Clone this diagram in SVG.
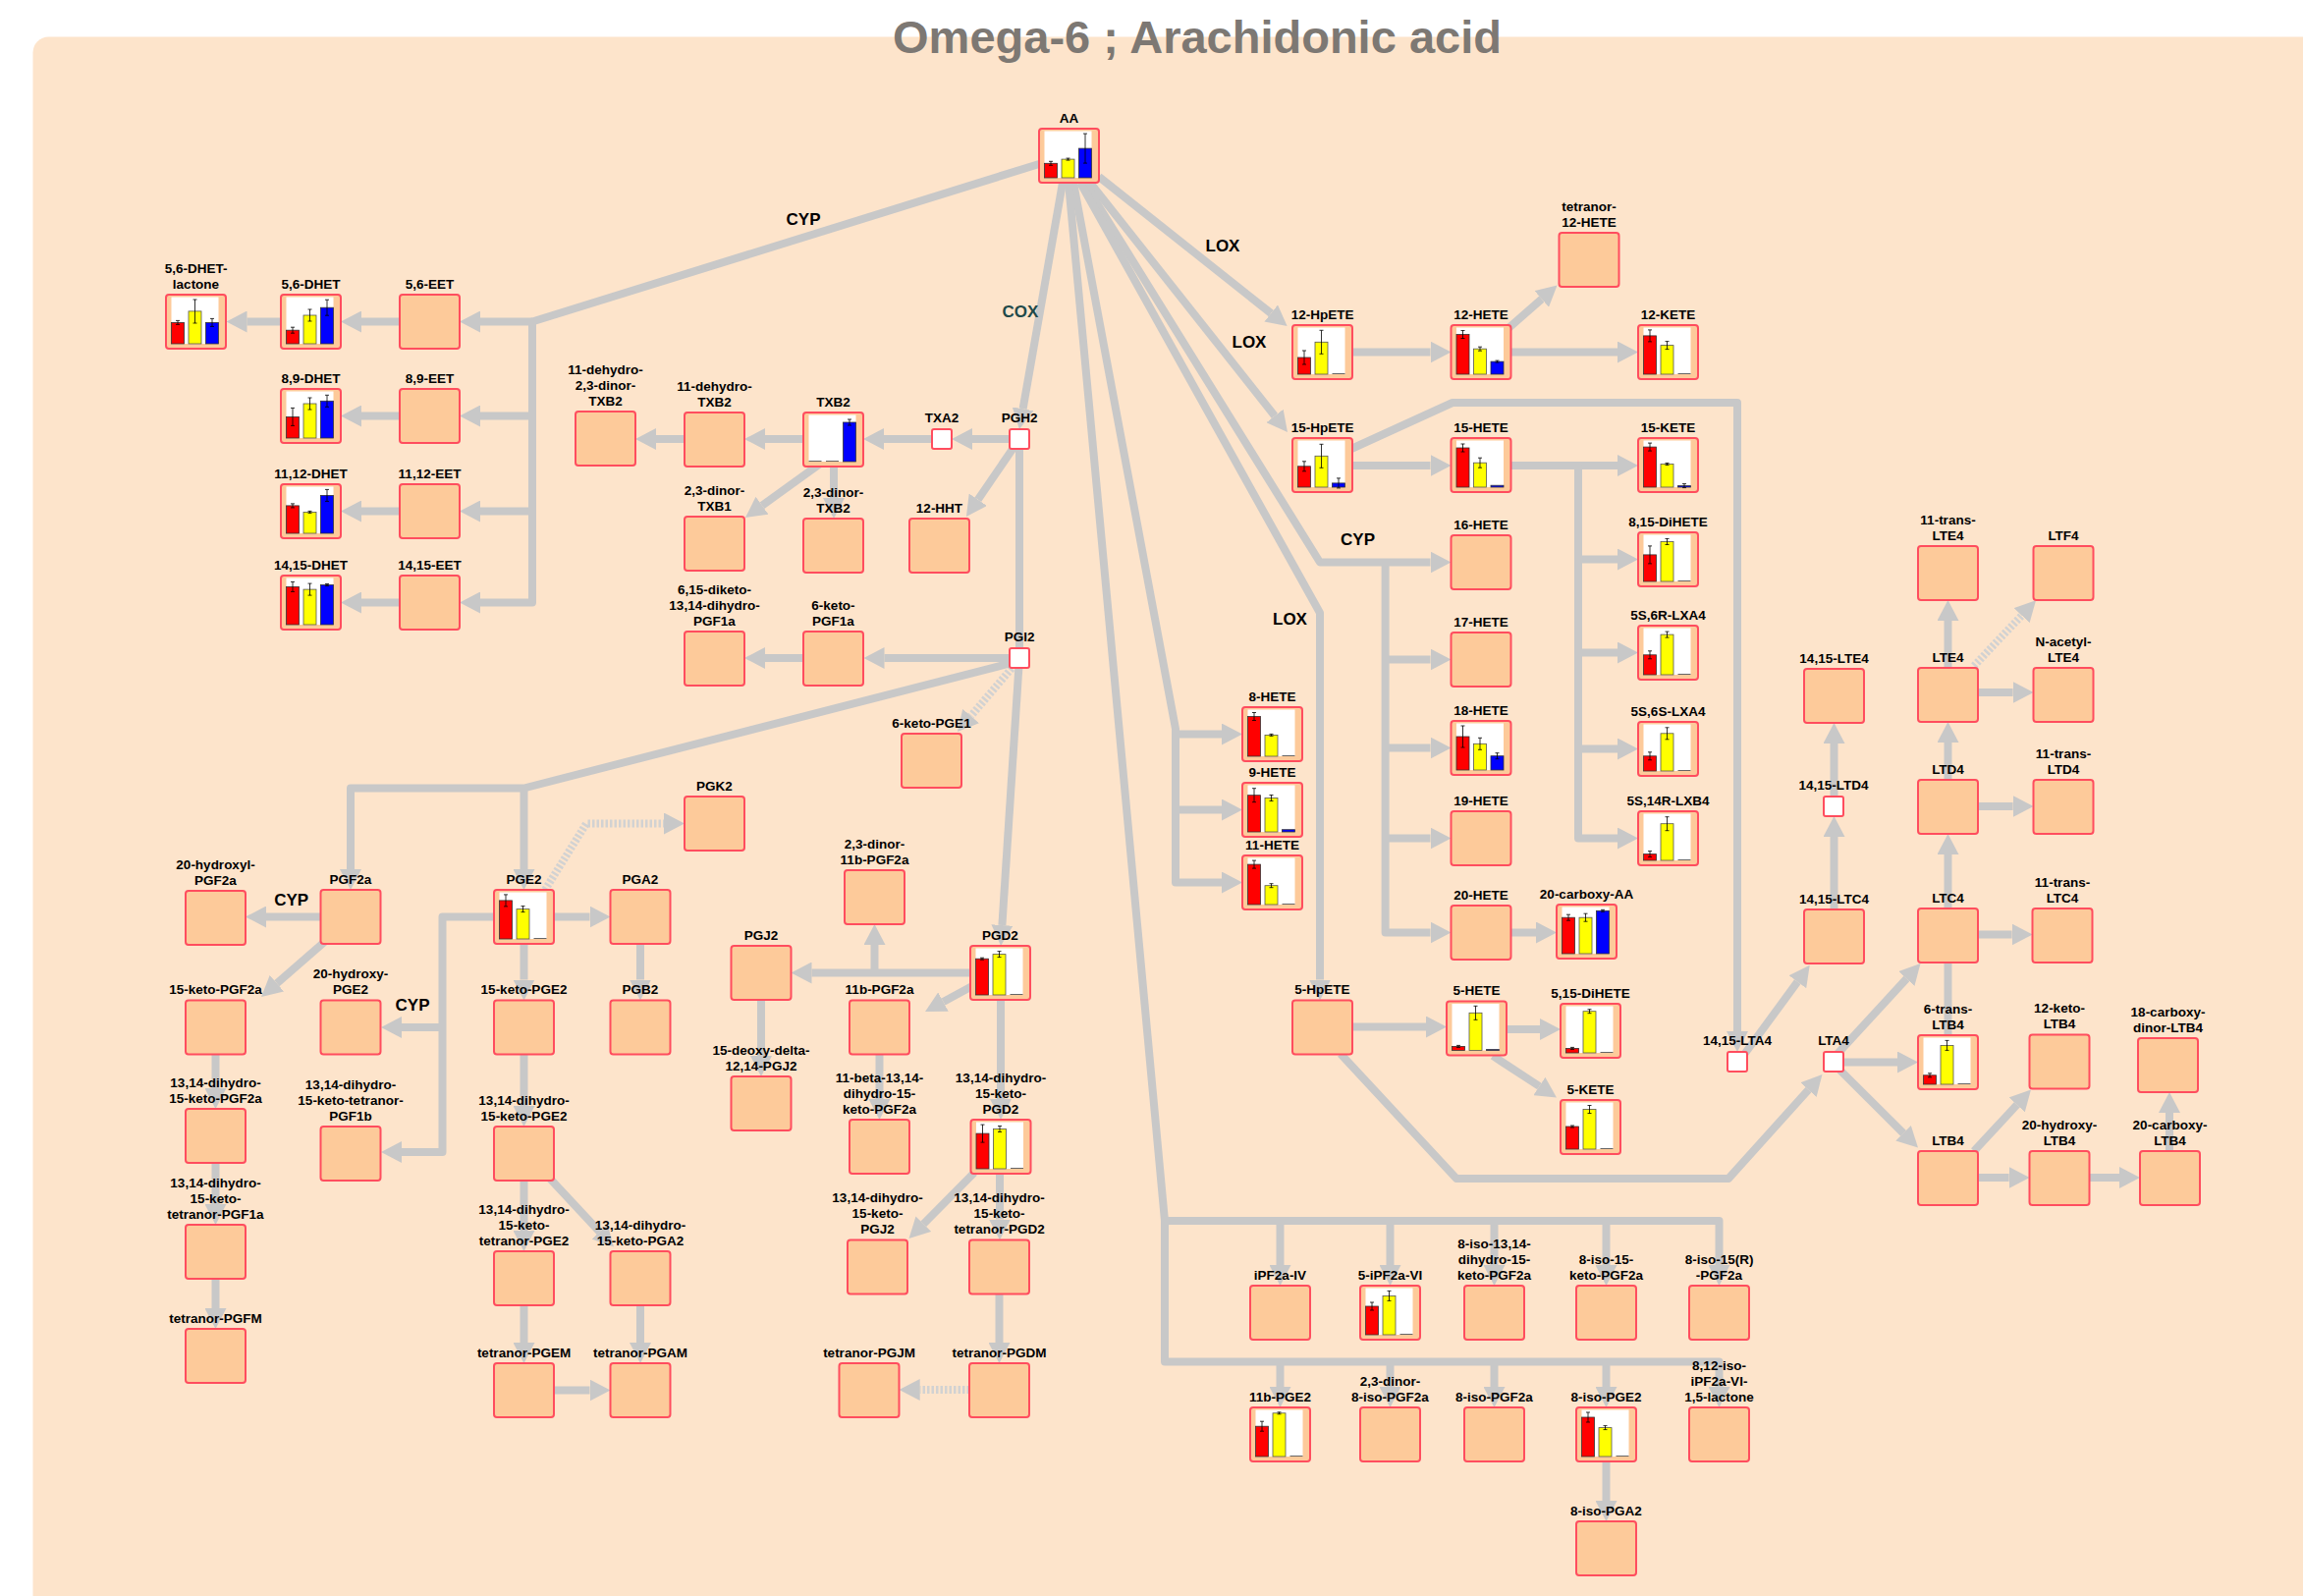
<svg xmlns="http://www.w3.org/2000/svg" width="2345" height="1625" viewBox="0 0 2345 1625">
<style>
.bx{fill:#fdca9a;stroke:#ff4d5e;stroke-width:2;rx:3px}
.sb{fill:#fff;stroke:#ff4d5e;stroke-width:2;rx:2px}
.pl{fill:#fff}
.r{fill:#f00;stroke:#333;stroke-width:.8}
.y{fill:#ff0;stroke:#555;stroke-width:.8}
.b{fill:#00f;stroke:#333;stroke-width:.8}
.z{fill:#666}
.er{fill:none;stroke:#000;stroke-width:.8}
.l{font-family:"Liberation Sans",Arial,sans-serif;font-weight:bold;font-size:13.5px;fill:#000;text-anchor:middle}
.en{font-family:"Liberation Sans",Arial,sans-serif;font-weight:bold;font-size:17px;fill:#000;text-anchor:middle}
.c{fill:none;stroke:#c8c8c8;stroke-width:8;stroke-linejoin:round}
.a{marker-end:url(#ah)}
.d{stroke:#d2d2d2;stroke-dasharray:2.5 2}
</style>
<defs>
<marker id="ah" markerUnits="userSpaceOnUse" markerWidth="21" markerHeight="22" viewBox="0 0 21 22" refX="0" refY="11" orient="auto"><path d="M0,0 L21,11 L0,22 z" fill="#c8c8c8"/></marker>
</defs>
<rect x="0" y="0" width="2345" height="1625" fill="#fff"/>
<rect x="33.5" y="37.5" width="2340" height="1620" rx="16" fill="#fde4cb"/>
<text x="1219" y="54" font-family="Liberation Sans,Arial,sans-serif" font-weight="bold" font-size="47" fill="#7d7873" text-anchor="middle">Omega-6 ; Arachidonic acid</text>

<g id="connectors">
<path class="c a" d="M1058,167 L542,327.5 L542,613.5 L489,613.5"/>
<path class="c a" d="M542,327.5 H489"/>
<path class="c a" d="M542,423.5 H489"/>
<path class="c a" d="M542,520.5 H489"/>
<path class="c a" d="M407,327.5 H368"/>
<path class="c a" d="M407,423.5 H368"/>
<path class="c a" d="M407,520.5 H368"/>
<path class="c a" d="M407,613.5 H368"/>
<path class="c a" d="M286,327.5 H251.5"/>
<path class="c a" d="M1082,186 L1041.6,416.3"/>
<path class="c a" d="M1028,447 H990"/>
<path class="c a" d="M949,447 H900"/>
<path class="c a" d="M818,447 H779"/>
<path class="c a" d="M697,447 H668"/>
<path class="c a" d="M849,475 V507"/>
<path class="c a" d="M838,470 L776,514.7"/>
<path class="c a" d="M1038,447 L995.8,508.7"/>
<path class="c" d="M1038,447 V670"/>
<path class="c a" d="M1038,670 H900.5"/>
<path class="c a" d="M818,670 H779"/>
<path class="c d a" d="M1033,677 L988.6,729"/>
<path class="c a" d="M1038,670 L1020.4,942"/>
<path class="c a" d="M1030,675 L533.5,802.5 L357,802.5 L357,885"/>
<path class="c a" d="M533.5,802.5 V885"/>
<path class="c a" d="M326.5,933.5 H271"/>
<path class="c a" d="M335,955 L281.9,1001.2"/>
<path class="c a" d="M219.5,1073.5 V1108"/>
<path class="c a" d="M219.5,1184 V1226"/>
<path class="c a" d="M219.5,1302 V1332"/>
<path class="c a" d="M564,933.5 H600.5"/>
<path class="c a" d="M503,933.5 H450.5 V1173 H409"/>
<path class="c a" d="M450.5,1046 H409"/>
<path class="c a" d="M533.5,961 V997.5"/>
<path class="c a" d="M533.5,1073.5 V1126"/>
<path class="c a" d="M533.5,1202 V1253"/>
<path class="c a" d="M560,1200 L610.6,1254.2"/>
<path class="c a" d="M533.5,1329 V1367"/>
<path class="c a" d="M652,1329 V1367"/>
<path class="c a" d="M564,1415.5 H600.5"/>
<path class="c a" d="M652,961 V997.5"/>
<path class="c d a" d="M555,906 L597,838.5 H676"/>
<path class="c a" d="M988,990.5 H826.5"/>
<path class="c a" d="M890.5,990.5 V962"/>
<path class="c a" d="M990,1004 L960.5,1020"/>
<path class="c a" d="M895.5,1073.5 V1119"/>
<path class="c a" d="M775,1018 V1075"/>
<path class="c a" d="M1019,1018 V1119"/>
<path class="c a" d="M992,1194 L940.3,1246.2"/>
<path class="c a" d="M1018,1195 V1241.5"/>
<path class="c a" d="M1017.5,1317 V1367"/>
<path class="c d a" d="M987,1415 H936.7"/>
<path class="c a" d="M1119,180 L1294.2,319"/>
<path class="c a" d="M1110,186 L1298,423.5"/>
<path class="c a" d="M1377,358.5 H1456.5"/>
<path class="c a" d="M1535,335 L1569.8,304.4"/>
<path class="c a" d="M1538.7,358.5 H1647"/>
<path class="c a" d="M1377,474 H1456.5"/>
<path class="c a" d="M1538.7,474 H1647"/>
<path class="c a" d="M1538.7,474 H1607 V853.5 H1647"/>
<path class="c a" d="M1607,569.5 H1647"/>
<path class="c a" d="M1607,664.5 H1647"/>
<path class="c a" d="M1607,762.5 H1647"/>
<path class="c a" d="M1365,462 L1479,410 H1769 V1050"/>
<path class="c a" d="M1104,186 L1344,572.5 H1456.5"/>
<path class="c a" d="M1410.6,572.5 V949.5 H1456.5"/>
<path class="c a" d="M1410.6,671.5 H1456.5"/>
<path class="c a" d="M1410.6,761.5 H1456.5"/>
<path class="c a" d="M1410.6,853.5 H1456.5"/>
<path class="c a" d="M1538.7,949.5 H1564"/>
<path class="c a" d="M1100,186 L1344,624 V997.5"/>
<path class="c a" d="M1093,186 L1197,742 V898.5 H1244"/>
<path class="c a" d="M1197,747.5 H1244"/>
<path class="c a" d="M1197,824.5 H1244"/>
<path class="c a" d="M1088,186 L1186,1243 V1386.5 H1750.5 V1412"/>
<path class="c a" d="M1186,1243 H1750.5 V1288"/>
<path class="c a" d="M1303.5,1243 V1288"/>
<path class="c a" d="M1415.5,1243 V1288"/>
<path class="c a" d="M1521.5,1243 V1288"/>
<path class="c a" d="M1635.5,1243 V1288"/>
<path class="c a" d="M1303.5,1386.5 V1412"/>
<path class="c a" d="M1415.5,1386.5 V1412"/>
<path class="c a" d="M1521.5,1386.5 V1412"/>
<path class="c a" d="M1635.5,1386.5 V1412"/>
<path class="c a" d="M1635.5,1488 V1528"/>
<path class="c a" d="M1377,1045.5 H1452"/>
<path class="c a" d="M1534,1048 H1568"/>
<path class="c a" d="M1520,1075 L1567.4,1106"/>
<path class="c a" d="M1365,1073 L1483,1200 H1760 L1841.4,1109.6"/>
<path class="c a" d="M1775,1075 L1830.3,999.7"/>
<path class="c a" d="M1867.5,926 V852"/>
<path class="c a" d="M1867.5,811 V757"/>
<path class="c a" d="M1870,1074 L1941.3,996.5"/>
<path class="c a" d="M1877,1081.5 H1932"/>
<path class="c a" d="M1872,1088 L1938.1,1153.8"/>
<path class="c" d="M1983.5,980 V1054"/>
<path class="c a" d="M1983.5,925 V870"/>
<path class="c a" d="M1983.5,794 V756"/>
<path class="c a" d="M1983.5,680 V632"/>
<path class="c d a" d="M2010,678 L2058.6,626.6"/>
<path class="c a" d="M2014,705 H2049.6"/>
<path class="c a" d="M2014,821 H2049.6"/>
<path class="c a" d="M2014,951.5 H2048.6"/>
<path class="c a" d="M2010,1172 L2053.7,1124.9"/>
<path class="c a" d="M2014,1199 H2045.6"/>
<path class="c a" d="M2127.7,1199 H2158"/>
<path class="c a" d="M2209,1172 V1133"/>
</g>

<g id="enzymes">
<text class="en" x="818" y="229">CYP</text>
<text class="en" x="1039" y="323" fill="#1f4a4a" style="fill:#1f4a4a">COX</text>
<text class="en" x="1245" y="256">LOX</text>
<text class="en" x="1272" y="353.5">LOX</text>
<text class="en" x="1382.5" y="555">CYP</text>
<text class="en" x="1313.5" y="635.7">LOX</text>
<text class="en" x="296.7" y="922">CYP</text>
<text class="en" x="420" y="1029">CYP</text>
</g>

<g id="n-dhet56lac" transform="translate(169,300)"><rect class="bx" width="61" height="55"/><rect class="pl" x="5.5" y="2.5" width="48" height="47.5"/><rect class="r" x="5.5" y="28.4" width="13" height="21.6"/><rect class="y" x="23" y="16.9" width="13" height="33.1"/><rect class="b" x="40.5" y="28.4" width="13" height="21.6"/><path class="er" d="M12,26.4v4m-2,0h4m0,-4h-4M29.5,5v24m-2,0h4m0,-24h-4M47,24.4v8m-2,0h4m0,-8h-4"/><text class="l" y="-22.5"><tspan x="30.5">5,6-DHET-</tspan><tspan x="30.5" dy="16">lactone</tspan></text></g>
<g id="n-dhet56" transform="translate(286,300)"><rect class="bx" width="61" height="55"/><rect class="pl" x="5.5" y="2.5" width="48" height="47.5"/><rect class="r" x="5.5" y="36.2" width="13" height="13.8"/><rect class="y" x="23" y="21" width="13" height="29"/><rect class="b" x="40.5" y="13.2" width="13" height="36.8"/><path class="er" d="M12,33.2v6m-2,0h4m0,-6h-4M29.5,15v12m-2,0h4m0,-12h-4M47,5.2v16m-2,0h4m0,-16h-4"/><text class="l" x="30.5" y="-6.5">5,6-DHET</text></g>
<g id="n-eet56" transform="translate(407,300)"><rect class="bx" width="61" height="55"/><text class="l" x="30.5" y="-6.5">5,6-EET</text></g>
<g id="n-dhet89" transform="translate(286,396)"><rect class="bx" width="61" height="55"/><rect class="pl" x="5.5" y="2.5" width="48" height="47.5"/><rect class="r" x="5.5" y="28.4" width="13" height="21.6"/><rect class="y" x="23" y="15" width="13" height="35"/><rect class="b" x="40.5" y="12.3" width="13" height="37.7"/><path class="er" d="M12,19.4v18m-2,0h4m0,-18h-4M29.5,9v12m-2,0h4m0,-12h-4M47,6.3v12m-2,0h4m0,-12h-4"/><text class="l" x="30.5" y="-6.5">8,9-DHET</text></g>
<g id="n-eet89" transform="translate(407,396)"><rect class="bx" width="61" height="55"/><text class="l" x="30.5" y="-6.5">8,9-EET</text></g>
<g id="n-dhet1112" transform="translate(286,493)"><rect class="bx" width="61" height="55"/><rect class="pl" x="5.5" y="2.5" width="48" height="47.5"/><rect class="r" x="5.5" y="21.9" width="13" height="28.1"/><rect class="y" x="23" y="28.4" width="13" height="21.6"/><rect class="b" x="40.5" y="11.4" width="13" height="38.6"/><path class="er" d="M12,19.9v4m-2,0h4m0,-4h-4M29.5,27.4v2m-2,0h4m0,-2h-4M47,5.4v12m-2,0h4m0,-12h-4"/><text class="l" x="30.5" y="-6.5">11,12-DHET</text></g>
<g id="n-eet1112" transform="translate(407,493)"><rect class="bx" width="61" height="55"/><text class="l" x="30.5" y="-6.5">11,12-EET</text></g>
<g id="n-dhet1415" transform="translate(286,586)"><rect class="bx" width="61" height="55"/><rect class="pl" x="5.5" y="2.5" width="48" height="47.5"/><rect class="r" x="5.5" y="11.4" width="13" height="38.6"/><rect class="y" x="23" y="14.1" width="13" height="35.9"/><rect class="b" x="40.5" y="9.5" width="13" height="40.5"/><path class="er" d="M12,6.4v10m-2,0h4m0,-10h-4M29.5,8.1v12m-2,0h4m0,-12h-4M47,8.5v2m-2,0h4m0,-2h-4"/><text class="l" x="30.5" y="-6.5">14,15-DHET</text></g>
<g id="n-eet1415" transform="translate(407,586)"><rect class="bx" width="61" height="55"/><text class="l" x="30.5" y="-6.5">14,15-EET</text></g>

<g id="n-dh23dinorTXB2" transform="translate(586,419)"><rect class="bx" width="61" height="55"/><text class="l" y="-38.5"><tspan x="30.5">11-dehydro-</tspan><tspan x="30.5" dy="16">2,3-dinor-</tspan><tspan x="30.5" dy="16">TXB2</tspan></text></g>
<g id="n-dhTXB2" transform="translate(697,420)"><rect class="bx" width="61" height="55"/><text class="l" y="-22.5"><tspan x="30.5">11-dehydro-</tspan><tspan x="30.5" dy="16">TXB2</tspan></text></g>
<g id="n-TXB2" transform="translate(818,420)"><rect class="bx" width="61" height="55"/><rect class="pl" x="5.5" y="2.5" width="48" height="47.5"/><rect class="z" x="5.5" y="49" width="13" height="1"/><rect class="z" x="23" y="49" width="13" height="1"/><rect class="b" x="40.5" y="10" width="13" height="40"/><path class="er" d="M47,7v6m-2,0h4m0,-6h-4"/><text class="l" x="30.5" y="-6.5">TXB2</text></g>
<g id="n-TXA2" transform="translate(949,437)"><rect class="sb" width="20" height="20"/><text class="l" x="10" y="-7">TXA2</text></g>
<g id="n-PGH2" transform="translate(1028,437)"><rect class="sb" width="20" height="20"/><text class="l" x="10" y="-7">PGH2</text></g>
<g id="n-dinorTXB1" transform="translate(697,526)"><rect class="bx" width="61" height="55"/><text class="l" y="-22.5"><tspan x="30.5">2,3-dinor-</tspan><tspan x="30.5" dy="16">TXB1</tspan></text></g>
<g id="n-dinorTXB2" transform="translate(818,528)"><rect class="bx" width="61" height="55"/><text class="l" y="-22.5"><tspan x="30.5">2,3-dinor-</tspan><tspan x="30.5" dy="16">TXB2</tspan></text></g>
<g id="n-HHT" transform="translate(926,528)"><rect class="bx" width="61" height="55"/><text class="l" x="30.5" y="-6.5">12-HHT</text></g>
<g id="n-diketo" transform="translate(697,643)"><rect class="bx" width="61" height="55"/><text class="l" y="-38.5"><tspan x="30.5">6,15-diketo-</tspan><tspan x="30.5" dy="16">13,14-dihydro-</tspan><tspan x="30.5" dy="16">PGF1a</tspan></text></g>
<g id="n-ketoPGF1a" transform="translate(818,643)"><rect class="bx" width="61" height="55"/><text class="l" y="-22.5"><tspan x="30.5">6-keto-</tspan><tspan x="30.5" dy="16">PGF1a</tspan></text></g>
<g id="n-PGI2" transform="translate(1028,660)"><rect class="sb" width="20" height="20"/><text class="l" x="10" y="-7">PGI2</text></g>
<g id="n-ketoPGE1" transform="translate(918,747)"><rect class="bx" width="61" height="55"/><text class="l" x="30.5" y="-6.5">6-keto-PGE1</text></g>
<g id="n-PGK2" transform="translate(697,811)"><rect class="bx" width="61" height="55"/><text class="l" x="30.5" y="-6.5">PGK2</text></g>
<g id="n-dinor11bPGF2a" transform="translate(860,886)"><rect class="bx" width="61" height="55"/><text class="l" y="-22.5"><tspan x="30.5">2,3-dinor-</tspan><tspan x="30.5" dy="16">11b-PGF2a</tspan></text></g>

<g id="n-hydroxylPGF2a" transform="translate(189,907)"><rect class="bx" width="61" height="55"/><text class="l" y="-22.5"><tspan x="30.5">20-hydroxyl-</tspan><tspan x="30.5" dy="16">PGF2a</tspan></text></g>
<g id="n-PGF2a" transform="translate(326.5,906)"><rect class="bx" width="61" height="55"/><text class="l" x="30.5" y="-6.5">PGF2a</text></g>
<g id="n-PGE2" transform="translate(503,906)"><rect class="bx" width="61" height="55"/><rect class="pl" x="5.5" y="2.5" width="48" height="47.5"/><rect class="r" x="5.5" y="10.9" width="13" height="39.1"/><rect class="y" x="23" y="19.6" width="13" height="30.4"/><rect class="z" x="40.5" y="49" width="13" height="1"/><path class="er" d="M12,4.9v12m-2,0h4m0,-12h-4M29.5,16.6v6m-2,0h4m0,-6h-4"/><text class="l" x="30.5" y="-6.5">PGE2</text></g>
<g id="n-PGA2" transform="translate(621.5,906)"><rect class="bx" width="61" height="55"/><text class="l" x="30.5" y="-6.5">PGA2</text></g>
<g id="n-PGJ2" transform="translate(744.5,963)"><rect class="bx" width="61" height="55"/><text class="l" x="30.5" y="-6.5">PGJ2</text></g>
<g id="n-PGD2" transform="translate(988,963)"><rect class="bx" width="61" height="55"/><rect class="pl" x="5.5" y="2.5" width="48" height="47.5"/><rect class="r" x="5.5" y="13.2" width="13" height="36.8"/><rect class="y" x="23" y="8.6" width="13" height="41.4"/><rect class="z" x="40.5" y="49" width="13" height="1"/><path class="er" d="M12,12.2v2m-2,0h4m0,-2h-4M29.5,5.6v6m-2,0h4m0,-6h-4"/><text class="l" x="30.5" y="-6.5">PGD2</text></g>
<g id="n-ketoPGF2a15" transform="translate(189,1018.5)"><rect class="bx" width="61" height="55"/><text class="l" x="30.5" y="-6.5">15-keto-PGF2a</text></g>
<g id="n-hydroxyPGE2" transform="translate(326.5,1018.5)"><rect class="bx" width="61" height="55"/><text class="l" y="-22.5"><tspan x="30.5">20-hydroxy-</tspan><tspan x="30.5" dy="16">PGE2</tspan></text></g>
<g id="n-ketoPGE2" transform="translate(503,1018.5)"><rect class="bx" width="61" height="55"/><text class="l" x="30.5" y="-6.5">15-keto-PGE2</text></g>
<g id="n-PGB2" transform="translate(621.5,1018.5)"><rect class="bx" width="61" height="55"/><text class="l" x="30.5" y="-6.5">PGB2</text></g>
<g id="n-11bPGF2a" transform="translate(865,1018.5)"><rect class="bx" width="61" height="55"/><text class="l" x="30.5" y="-6.5">11b-PGF2a</text></g>
<g id="n-deoxyPGJ2" transform="translate(744.5,1096)"><rect class="bx" width="61" height="55"/><text class="l" y="-22.5"><tspan x="30.5">15-deoxy-delta-</tspan><tspan x="30.5" dy="16">12,14-PGJ2</tspan></text></g>
<g id="n-dhkPGF2a" transform="translate(189,1129)"><rect class="bx" width="61" height="55"/><text class="l" y="-22.5"><tspan x="30.5">13,14-dihydro-</tspan><tspan x="30.5" dy="16">15-keto-PGF2a</tspan></text></g>
<g id="n-tetPGF1b" transform="translate(326.5,1147)"><rect class="bx" width="61" height="55"/><text class="l" y="-38.5"><tspan x="30.5">13,14-dihydro-</tspan><tspan x="30.5" dy="16">15-keto-tetranor-</tspan><tspan x="30.5" dy="16">PGF1b</tspan></text></g>
<g id="n-dhkPGE2" transform="translate(503,1147)"><rect class="bx" width="61" height="55"/><text class="l" y="-22.5"><tspan x="30.5">13,14-dihydro-</tspan><tspan x="30.5" dy="16">15-keto-PGE2</tspan></text></g>
<g id="n-b11dhk" transform="translate(865,1140)"><rect class="bx" width="61" height="55"/><text class="l" y="-38.5"><tspan x="30.5">11-beta-13,14-</tspan><tspan x="30.5" dy="16">dihydro-15-</tspan><tspan x="30.5" dy="16">keto-PGF2a</tspan></text></g>
<g id="n-dhkPGD2" transform="translate(988.5,1140)"><rect class="bx" width="61" height="55"/><rect class="pl" x="5.5" y="2.5" width="48" height="47.5"/><rect class="r" x="5.5" y="14.1" width="13" height="35.9"/><rect class="y" x="23" y="9.5" width="13" height="40.5"/><rect class="z" x="40.5" y="49" width="13" height="1"/><path class="er" d="M12,5.1v18m-2,0h4m0,-18h-4M29.5,6.5v6m-2,0h4m0,-6h-4"/><text class="l" y="-38.5"><tspan x="30.5">13,14-dihydro-</tspan><tspan x="30.5" dy="16">15-keto-</tspan><tspan x="30.5" dy="16">PGD2</tspan></text></g>
<g id="n-tetPGF1a" transform="translate(189,1247)"><rect class="bx" width="61" height="55"/><text class="l" y="-38.5"><tspan x="30.5">13,14-dihydro-</tspan><tspan x="30.5" dy="16">15-keto-</tspan><tspan x="30.5" dy="16">tetranor-PGF1a</tspan></text></g>
<g id="n-tetPGE2" transform="translate(503,1274)"><rect class="bx" width="61" height="55"/><text class="l" y="-38.5"><tspan x="30.5">13,14-dihydro-</tspan><tspan x="30.5" dy="16">15-keto-</tspan><tspan x="30.5" dy="16">tetranor-PGE2</tspan></text></g>
<g id="n-dhkPGA2" transform="translate(621.5,1274)"><rect class="bx" width="61" height="55"/><text class="l" y="-22.5"><tspan x="30.5">13,14-dihydro-</tspan><tspan x="30.5" dy="16">15-keto-PGA2</tspan></text></g>
<g id="n-dhkPGJ2" transform="translate(863,1262.5)"><rect class="bx" width="61" height="55"/><text class="l" y="-38.5"><tspan x="30.5">13,14-dihydro-</tspan><tspan x="30.5" dy="16">15-keto-</tspan><tspan x="30.5" dy="16">PGJ2</tspan></text></g>
<g id="n-tetPGD2" transform="translate(987,1262.5)"><rect class="bx" width="61" height="55"/><text class="l" y="-38.5"><tspan x="30.5">13,14-dihydro-</tspan><tspan x="30.5" dy="16">15-keto-</tspan><tspan x="30.5" dy="16">tetranor-PGD2</tspan></text></g>
<g id="n-PGFM" transform="translate(189,1353)"><rect class="bx" width="61" height="55"/><text class="l" x="30.5" y="-6.5">tetranor-PGFM</text></g>
<g id="n-PGEM" transform="translate(503,1388)"><rect class="bx" width="61" height="55"/><text class="l" x="30.5" y="-6.5">tetranor-PGEM</text></g>
<g id="n-PGAM" transform="translate(621.5,1388)"><rect class="bx" width="61" height="55"/><text class="l" x="30.5" y="-6.5">tetranor-PGAM</text></g>
<g id="n-PGJM" transform="translate(854.5,1388)"><rect class="bx" width="61" height="55"/><text class="l" x="30.5" y="-6.5">tetranor-PGJM</text></g>
<g id="n-PGDM" transform="translate(987,1388)"><rect class="bx" width="61" height="55"/><text class="l" x="30.5" y="-6.5">tetranor-PGDM</text></g>

<g id="n-AA" transform="translate(1058,131)"><rect class="bx" width="61" height="55"/><rect class="pl" x="5.5" y="2.5" width="48" height="47.5"/><rect class="r" x="5.5" y="35.3" width="13" height="14.7"/><rect class="y" x="23" y="31.1" width="13" height="18.9"/><rect class="b" x="40.5" y="20.1" width="13" height="29.9"/><path class="er" d="M12,33.3v4m-2,0h4m0,-4h-4M29.5,30.1v2m-2,0h4m0,-2h-4M47,5.1v30m-2,0h4m0,-30h-4"/><text class="l" x="30.5" y="-6.5">AA</text></g>

<g id="n-HpETE12" transform="translate(1316,331)"><rect class="bx" width="61" height="55"/><rect class="pl" x="5.5" y="2.5" width="48" height="47.5"/><rect class="r" x="5.5" y="33" width="13" height="17"/><rect class="y" x="23" y="17.3" width="13" height="32.7"/><rect class="z" x="40.5" y="49" width="13" height="1"/><path class="er" d="M12,26v14m-2,0h4m0,-14h-4M29.5,5.3v24m-2,0h4m0,-24h-4"/><text class="l" x="30.5" y="-6.5">12-HpETE</text></g>
<g id="n-HETE12" transform="translate(1477.5,331)"><rect class="bx" width="61" height="55"/><rect class="pl" x="5.5" y="2.5" width="48" height="47.5"/><rect class="r" x="5.5" y="9.5" width="13" height="40.5"/><rect class="y" x="23" y="24.2" width="13" height="25.8"/><rect class="b" x="40.5" y="37.1" width="13" height="12.9"/><path class="er" d="M12,5.5v8m-2,0h4m0,-8h-4M29.5,22.2v4m-2,0h4m0,-4h-4M47,36.1v2m-2,0h4m0,-2h-4"/><text class="l" x="30.5" y="-6.5">12-HETE</text></g>
<g id="n-tetranor12HETE" transform="translate(1587.5,237)"><rect class="bx" width="61" height="55"/><text class="l" y="-22.5"><tspan x="30.5">tetranor-</tspan><tspan x="30.5" dy="16">12-HETE</tspan></text></g>
<g id="n-KETE12" transform="translate(1668,331)"><rect class="bx" width="61" height="55"/><rect class="pl" x="5.5" y="2.5" width="48" height="47.5"/><rect class="r" x="5.5" y="10.9" width="13" height="39.1"/><rect class="y" x="23" y="20.6" width="13" height="29.4"/><rect class="z" x="40.5" y="49" width="13" height="1"/><path class="er" d="M12,4.9v12m-2,0h4m0,-12h-4M29.5,16.6v8m-2,0h4m0,-8h-4"/><text class="l" x="30.5" y="-6.5">12-KETE</text></g>
<g id="n-HpETE15" transform="translate(1316,446)"><rect class="bx" width="61" height="55"/><rect class="pl" x="5.5" y="2.5" width="48" height="47.5"/><rect class="r" x="5.5" y="28.8" width="13" height="21.2"/><rect class="y" x="23" y="18.3" width="13" height="31.7"/><rect class="b" x="40.5" y="45.9" width="13" height="4.1"/><path class="er" d="M12,23.8v10m-2,0h4m0,-10h-4M29.5,6.3v24m-2,0h4m0,-24h-4M47,40.9v10m-2,0h4m0,-10h-4"/><text class="l" x="30.5" y="-6.5">15-HpETE</text></g>
<g id="n-HETE15" transform="translate(1477.5,446)"><rect class="bx" width="61" height="55"/><rect class="pl" x="5.5" y="2.5" width="48" height="47.5"/><rect class="r" x="5.5" y="10" width="13" height="40"/><rect class="y" x="23" y="25.2" width="13" height="24.8"/><rect class="b" x="40.5" y="48.2" width="13" height="1.8"/><path class="er" d="M12,6v8m-2,0h4m0,-8h-4M29.5,20.2v10m-2,0h4m0,-10h-4"/><text class="l" x="30.5" y="-6.5">15-HETE</text></g>
<g id="n-KETE15" transform="translate(1668,446)"><rect class="bx" width="61" height="55"/><rect class="pl" x="5.5" y="2.5" width="48" height="47.5"/><rect class="r" x="5.5" y="9.1" width="13" height="40.9"/><rect class="y" x="23" y="26.5" width="13" height="23.5"/><rect class="b" x="40.5" y="48.6" width="13" height="1.4"/><path class="er" d="M12,5.1v8m-2,0h4m0,-8h-4M29.5,25.5v2m-2,0h4m0,-2h-4M47,46.6v4m-2,0h4m0,-4h-4"/><text class="l" x="30.5" y="-6.5">15-KETE</text></g>
<g id="n-DiHETE815" transform="translate(1668,542)"><rect class="bx" width="61" height="55"/><rect class="pl" x="5.5" y="2.5" width="48" height="47.5"/><rect class="r" x="5.5" y="22.9" width="13" height="27.1"/><rect class="y" x="23" y="9.5" width="13" height="40.5"/><rect class="z" x="40.5" y="49" width="13" height="1"/><path class="er" d="M12,13.9v18m-2,0h4m0,-18h-4M29.5,6.5v6m-2,0h4m0,-6h-4"/><text class="l" x="30.5" y="-6.5">8,15-DiHETE</text></g>
<g id="n-HETE16" transform="translate(1477.5,545)"><rect class="bx" width="61" height="55"/><text class="l" x="30.5" y="-6.5">16-HETE</text></g>
<g id="n-HETE17" transform="translate(1477.5,644)"><rect class="bx" width="61" height="55"/><text class="l" x="30.5" y="-6.5">17-HETE</text></g>
<g id="n-LXA4a" transform="translate(1668,637)"><rect class="bx" width="61" height="55"/><rect class="pl" x="5.5" y="2.5" width="48" height="47.5"/><rect class="r" x="5.5" y="29.8" width="13" height="20.2"/><rect class="y" x="23" y="9.1" width="13" height="40.9"/><rect class="z" x="40.5" y="49" width="13" height="1"/><path class="er" d="M12,25.8v8m-2,0h4m0,-8h-4M29.5,6.1v6m-2,0h4m0,-6h-4"/><text class="l" x="30.5" y="-6.5">5S,6R-LXA4</text></g>
<g id="n-HETE18" transform="translate(1477.5,734)"><rect class="bx" width="61" height="55"/><rect class="pl" x="5.5" y="2.5" width="48" height="47.5"/><rect class="r" x="5.5" y="16" width="13" height="34"/><rect class="y" x="23" y="23.3" width="13" height="26.7"/><rect class="b" x="40.5" y="35.7" width="13" height="14.3"/><path class="er" d="M12,5v22m-2,0h4m0,-22h-4M29.5,17.3v12m-2,0h4m0,-12h-4M47,32.7v6m-2,0h4m0,-6h-4"/><text class="l" x="30.5" y="-6.5">18-HETE</text></g>
<g id="n-LXA4b" transform="translate(1668,735)"><rect class="bx" width="61" height="55"/><rect class="pl" x="5.5" y="2.5" width="48" height="47.5"/><rect class="r" x="5.5" y="34.8" width="13" height="15.2"/><rect class="y" x="23" y="11.8" width="13" height="38.2"/><rect class="z" x="40.5" y="49" width="13" height="1"/><path class="er" d="M12,30.8v8m-2,0h4m0,-8h-4M29.5,5.8v12m-2,0h4m0,-12h-4"/><text class="l" x="30.5" y="-6.5">5S,6S-LXA4</text></g>
<g id="n-HETE8" transform="translate(1265,720)"><rect class="bx" width="61" height="55"/><rect class="pl" x="5.5" y="2.5" width="48" height="47.5"/><rect class="r" x="5.5" y="9.5" width="13" height="40.5"/><rect class="y" x="23" y="28.4" width="13" height="21.6"/><rect class="z" x="40.5" y="49" width="13" height="1"/><path class="er" d="M12,5.5v8m-2,0h4m0,-8h-4M29.5,27.4v2m-2,0h4m0,-2h-4"/><text class="l" x="30.5" y="-6.5">8-HETE</text></g>
<g id="n-HETE9" transform="translate(1265,797)"><rect class="bx" width="61" height="55"/><rect class="pl" x="5.5" y="2.5" width="48" height="47.5"/><rect class="r" x="5.5" y="12.7" width="13" height="37.3"/><rect class="y" x="23" y="15.5" width="13" height="34.5"/><rect class="b" x="40.5" y="47.7" width="13" height="2.3"/><path class="er" d="M12,5.7v14m-2,0h4m0,-14h-4M29.5,12.5v6m-2,0h4m0,-6h-4"/><text class="l" x="30.5" y="-6.5">9-HETE</text></g>
<g id="n-HETE11" transform="translate(1265,871)"><rect class="bx" width="61" height="55"/><rect class="pl" x="5.5" y="2.5" width="48" height="47.5"/><rect class="r" x="5.5" y="9.1" width="13" height="40.9"/><rect class="y" x="23" y="30.7" width="13" height="19.3"/><rect class="z" x="40.5" y="49" width="13" height="1"/><path class="er" d="M12,5.1v8m-2,0h4m0,-8h-4M29.5,28.7v4m-2,0h4m0,-4h-4"/><text class="l" x="30.5" y="-6.5">11-HETE</text></g>
<g id="n-HETE19" transform="translate(1477.5,826)"><rect class="bx" width="61" height="55"/><text class="l" x="30.5" y="-6.5">19-HETE</text></g>
<g id="n-LXB4" transform="translate(1668,826)"><rect class="bx" width="61" height="55"/><rect class="pl" x="5.5" y="2.5" width="48" height="47.5"/><rect class="r" x="5.5" y="43.6" width="13" height="6.4"/><rect class="y" x="23" y="12.7" width="13" height="37.3"/><rect class="z" x="40.5" y="49" width="13" height="1"/><path class="er" d="M12,40.6v6m-2,0h4m0,-6h-4M29.5,5.7v14m-2,0h4m0,-14h-4"/><text class="l" x="30.5" y="-6.5">5S,14R-LXB4</text></g>
<g id="n-HETE20" transform="translate(1477.5,922)"><rect class="bx" width="61" height="55"/><text class="l" x="30.5" y="-6.5">20-HETE</text></g>
<g id="n-carboxyAA" transform="translate(1585,921)"><rect class="bx" width="61" height="55"/><rect class="pl" x="5.5" y="2.5" width="48" height="47.5"/><rect class="r" x="5.5" y="13.2" width="13" height="36.8"/><rect class="y" x="23" y="13.2" width="13" height="36.8"/><rect class="b" x="40.5" y="6.3" width="13" height="43.7"/><path class="er" d="M12,10.2v6m-2,0h4m0,-6h-4M29.5,9.2v8m-2,0h4m0,-8h-4M47,5.3v2m-2,0h4m0,-2h-4"/><text class="l" x="30.5" y="-6.5">20-carboxy-AA</text></g>
<g id="n-HpETE5" transform="translate(1316,1018.5)"><rect class="bx" width="61" height="55"/><text class="l" x="30.5" y="-6.5">5-HpETE</text></g>
<g id="n-HETE5" transform="translate(1473,1019.5)"><rect class="bx" width="61" height="55"/><rect class="pl" x="5.5" y="2.5" width="48" height="47.5"/><rect class="r" x="5.5" y="45.9" width="13" height="4.1"/><rect class="y" x="23" y="11.8" width="13" height="38.2"/><rect class="b" x="40.5" y="49.1" width="13" height="0.9"/><path class="er" d="M12,44.9v2m-2,0h4m0,-2h-4M29.5,4.8v14m-2,0h4m0,-14h-4"/><text class="l" x="30.5" y="-6.5">5-HETE</text></g>
<g id="n-DiHETE515" transform="translate(1589,1022)"><rect class="bx" width="61" height="55"/><rect class="pl" x="5.5" y="2.5" width="48" height="47.5"/><rect class="r" x="5.5" y="45.4" width="13" height="4.6"/><rect class="y" x="23" y="7.7" width="13" height="42.3"/><rect class="z" x="40.5" y="49" width="13" height="1"/><path class="er" d="M12,44.4v2m-2,0h4m0,-2h-4M29.5,5.7v4m-2,0h4m0,-4h-4"/><text class="l" x="30.5" y="-6.5">5,15-DiHETE</text></g>
<g id="n-KETE5" transform="translate(1589,1120)"><rect class="bx" width="61" height="55"/><rect class="pl" x="5.5" y="2.5" width="48" height="47.5"/><rect class="r" x="5.5" y="27" width="13" height="23"/><rect class="y" x="23" y="9.5" width="13" height="40.5"/><rect class="z" x="40.5" y="49" width="13" height="1"/><path class="er" d="M12,26v2m-2,0h4m0,-2h-4M29.5,5.5v8m-2,0h4m0,-8h-4"/><text class="l" x="30.5" y="-6.5">5-KETE</text></g>

<g id="n-LTA4-1415" transform="translate(1759,1071)"><rect class="sb" width="20" height="20"/><text class="l" x="10" y="-7">14,15-LTA4</text></g>
<g id="n-LTA4" transform="translate(1857,1071)"><rect class="sb" width="20" height="20"/><text class="l" x="10" y="-7">LTA4</text></g>
<g id="n-LTC4-1415" transform="translate(1837,926)"><rect class="bx" width="61" height="55"/><text class="l" x="30.5" y="-6.5">14,15-LTC4</text></g>
<g id="n-LTD4-1415" transform="translate(1857,811)"><rect class="sb" width="20" height="20"/><text class="l" x="10" y="-7">14,15-LTD4</text></g>
<g id="n-LTE4-1415" transform="translate(1837,681)"><rect class="bx" width="61" height="55"/><text class="l" x="30.5" y="-6.5">14,15-LTE4</text></g>
<g id="n-LTE4" transform="translate(1953,680)"><rect class="bx" width="61" height="55"/><text class="l" x="30.5" y="-6.5">LTE4</text></g>
<g id="n-transLTE4" transform="translate(1953,556)"><rect class="bx" width="61" height="55"/><text class="l" y="-22.5"><tspan x="30.5">11-trans-</tspan><tspan x="30.5" dy="16">LTE4</tspan></text></g>
<g id="n-LTF4" transform="translate(2070.5,556)"><rect class="bx" width="61" height="55"/><text class="l" x="30.5" y="-6.5">LTF4</text></g>
<g id="n-acetylLTE4" transform="translate(2070.5,680)"><rect class="bx" width="61" height="55"/><text class="l" y="-22.5"><tspan x="30.5">N-acetyl-</tspan><tspan x="30.5" dy="16">LTE4</tspan></text></g>
<g id="n-LTD4" transform="translate(1953,794)"><rect class="bx" width="61" height="55"/><text class="l" x="30.5" y="-6.5">LTD4</text></g>
<g id="n-transLTD4" transform="translate(2070.5,794)"><rect class="bx" width="61" height="55"/><text class="l" y="-22.5"><tspan x="30.5">11-trans-</tspan><tspan x="30.5" dy="16">LTD4</tspan></text></g>
<g id="n-LTC4" transform="translate(1953,925)"><rect class="bx" width="61" height="55"/><text class="l" x="30.5" y="-6.5">LTC4</text></g>
<g id="n-transLTC4" transform="translate(2069.5,925)"><rect class="bx" width="61" height="55"/><text class="l" y="-22.5"><tspan x="30.5">11-trans-</tspan><tspan x="30.5" dy="16">LTC4</tspan></text></g>
<g id="n-transLTB4" transform="translate(1953,1054)"><rect class="bx" width="61" height="55"/><rect class="pl" x="5.5" y="2.5" width="48" height="47.5"/><rect class="r" x="5.5" y="40.8" width="13" height="9.2"/><rect class="y" x="23" y="10.4" width="13" height="39.6"/><rect class="z" x="40.5" y="49" width="13" height="1"/><path class="er" d="M12,38.8v4m-2,0h4m0,-4h-4M29.5,5.4v10m-2,0h4m0,-10h-4"/><text class="l" y="-22.5"><tspan x="30.5">6-trans-</tspan><tspan x="30.5" dy="16">LTB4</tspan></text></g>
<g id="n-ketoLTB4" transform="translate(2066.5,1053.5)"><rect class="bx" width="61" height="55"/><text class="l" y="-22.5"><tspan x="30.5">12-keto-</tspan><tspan x="30.5" dy="16">LTB4</tspan></text></g>
<g id="n-carbdinorLTB4" transform="translate(2177,1057)"><rect class="bx" width="61" height="55"/><text class="l" y="-22.5"><tspan x="30.5">18-carboxy-</tspan><tspan x="30.5" dy="16">dinor-LTB4</tspan></text></g>
<g id="n-LTB4" transform="translate(1953,1172)"><rect class="bx" width="61" height="55"/><text class="l" x="30.5" y="-6.5">LTB4</text></g>
<g id="n-hydroxyLTB4" transform="translate(2066.5,1172)"><rect class="bx" width="61" height="55"/><text class="l" y="-22.5"><tspan x="30.5">20-hydroxy-</tspan><tspan x="30.5" dy="16">LTB4</tspan></text></g>
<g id="n-carboxyLTB4" transform="translate(2179,1172)"><rect class="bx" width="61" height="55"/><text class="l" y="-22.5"><tspan x="30.5">20-carboxy-</tspan><tspan x="30.5" dy="16">LTB4</tspan></text></g>

<g id="n-iPF2aIV" transform="translate(1273,1309)"><rect class="bx" width="61" height="55"/><text class="l" x="30.5" y="-6.5">iPF2a-IV</text></g>
<g id="n-iPF2aVI" transform="translate(1385,1309)"><rect class="bx" width="61" height="55"/><rect class="pl" x="5.5" y="2.5" width="48" height="47.5"/><rect class="r" x="5.5" y="21" width="13" height="29"/><rect class="y" x="23" y="10.4" width="13" height="39.6"/><rect class="z" x="40.5" y="49" width="13" height="1"/><path class="er" d="M12,17v8m-2,0h4m0,-8h-4M29.5,5.4v10m-2,0h4m0,-10h-4"/><text class="l" x="30.5" y="-6.5">5-iPF2a-VI</text></g>
<g id="n-iso1314" transform="translate(1491,1309)"><rect class="bx" width="61" height="55"/><text class="l" y="-38.5"><tspan x="30.5">8-iso-13,14-</tspan><tspan x="30.5" dy="16">dihydro-15-</tspan><tspan x="30.5" dy="16">keto-PGF2a</tspan></text></g>
<g id="n-iso15keto" transform="translate(1605,1309)"><rect class="bx" width="61" height="55"/><text class="l" y="-22.5"><tspan x="30.5">8-iso-15-</tspan><tspan x="30.5" dy="16">keto-PGF2a</tspan></text></g>
<g id="n-iso15R" transform="translate(1720,1309)"><rect class="bx" width="61" height="55"/><text class="l" y="-22.5"><tspan x="30.5">8-iso-15(R)</tspan><tspan x="30.5" dy="16">-PGF2a</tspan></text></g>
<g id="n-PGE2-11b" transform="translate(1273,1433)"><rect class="bx" width="61" height="55"/><rect class="pl" x="5.5" y="2.5" width="48" height="47.5"/><rect class="r" x="5.5" y="19.2" width="13" height="30.8"/><rect class="y" x="23" y="5.8" width="13" height="44.2"/><rect class="z" x="40.5" y="49" width="13" height="1"/><path class="er" d="M12,14.2v10m-2,0h4m0,-10h-4M29.5,4.8v2m-2,0h4m0,-2h-4"/><text class="l" x="30.5" y="-6.5">11b-PGE2</text></g>
<g id="n-dinoriso" transform="translate(1385,1433)"><rect class="bx" width="61" height="55"/><text class="l" y="-22.5"><tspan x="30.5">2,3-dinor-</tspan><tspan x="30.5" dy="16">8-iso-PGF2a</tspan></text></g>
<g id="n-isoPGF2a" transform="translate(1491,1433)"><rect class="bx" width="61" height="55"/><text class="l" x="30.5" y="-6.5">8-iso-PGF2a</text></g>
<g id="n-isoPGE2" transform="translate(1605,1433)"><rect class="bx" width="61" height="55"/><rect class="pl" x="5.5" y="2.5" width="48" height="47.5"/><rect class="r" x="5.5" y="10" width="13" height="40"/><rect class="y" x="23" y="20.6" width="13" height="29.4"/><rect class="z" x="40.5" y="49" width="13" height="1"/><path class="er" d="M12,5v10m-2,0h4m0,-10h-4M29.5,18.6v4m-2,0h4m0,-4h-4"/><text class="l" x="30.5" y="-6.5">8-iso-PGE2</text></g>
<g id="n-lactone" transform="translate(1720,1433)"><rect class="bx" width="61" height="55"/><text class="l" y="-38.5"><tspan x="30.5">8,12-iso-</tspan><tspan x="30.5" dy="16">iPF2a-VI-</tspan><tspan x="30.5" dy="16">1,5-lactone</tspan></text></g>
<g id="n-isoPGA2" transform="translate(1605,1549)"><rect class="bx" width="61" height="55"/><text class="l" x="30.5" y="-6.5">8-iso-PGA2</text></g>
</svg>
